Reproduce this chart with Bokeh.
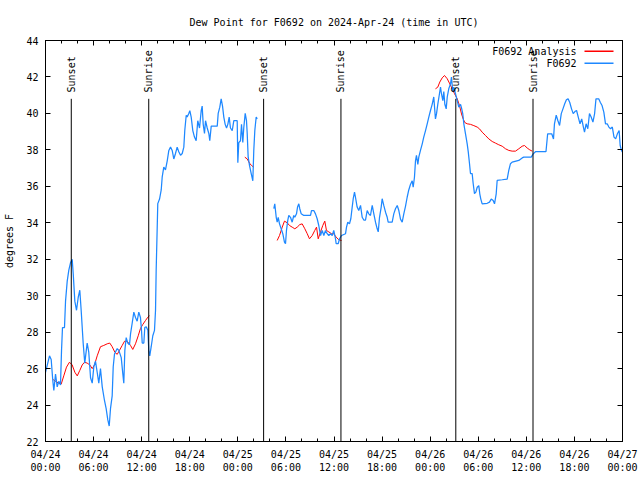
import math
import numpy as np
import pandas as pd
from bokeh.plotting import figure
from bokeh.models import (Range1d, FixedTicker, DatetimeTickFormatter, LinearAxis,
                          DatetimeAxis, Label, BoxAnnotation, ColumnDataSource)
from bokeh.core.properties import value
from bokeh.embed import file_html
from bokeh.resources import INLINE

TITLE = "Dew Point for F0692 on 2024-Apr-24 (time in UTC)"
START = "2024-04-24 00:00"

# Observed dew point (F0692): hours after START, degrees F (None = data gap)
obs_hours = [
    0.0, 0.50, 0.71, 0.91, 1.04, 1.25, 1.46, 1.66, 1.87, 2.0, 2.12, 2.37, 2.5, 2.71, 2.91,
    3.12, 3.33, 3.46, 3.66, 3.87, 4.08, 4.28, 4.45, 4.70, 4.90, 5.20, 5.40, 5.62, 5.83,
    6.03, 6.24, 6.45, 6.65, 6.86, 7.08, 7.36, 7.57, 7.77, 7.95, 8.11, 8.32, 8.45, 8.61,
    8.95, 9.15, 9.45, 9.65, 9.77, 9.90, 10.07, 10.27, 10.48, 10.61, 10.82, 11.02, 11.23,
    11.44, 11.64, 11.85, 11.98, 12.07, 12.27, 12.39, 12.57, 12.77, 12.89, 13.01, 13.19,
    13.39, 13.60, 13.73, 13.81, 13.94, 14.01, 14.23, 14.44, 14.56, 14.76, 14.97, 15.19,
    15.39, 15.60, 15.81, 16.01, 16.22, 16.43, 16.63, 16.85, 17.06, 17.26, 17.38, 17.56,
    17.68, 17.88, 18.01, 18.18, 18.38, 18.59, 18.80, 19.00, 19.22, 19.43, 19.55, 19.68,
    19.84, 19.97, 20.18, 20.38, 20.50, 20.68, 21.21, 21.43, 21.55, 21.75, 21.92, 22.09,
    22.25, 22.42, 22.59, 22.75, 22.92, 23.08, 23.30, 23.50, 23.92, 24.00, 24.12, 24.33,
    24.46, 24.62, 24.74, 24.92, 25.08, 25.17, 25.29, 25.46, 25.67, 25.87, 25.99, 26.12,
    26.29, 26.42,
    None,
    28.49, 28.61, 28.79, 28.91, 29.04, 29.20, 29.41, 29.61, 29.82, 29.95, 30.07, 30.23,
    30.36, 30.57, 30.78, 30.98, 31.11, 31.32, 31.45, 31.61, 31.73, 31.91, 32.23, 33.07,
    33.19, 33.48, 33.69, 33.90, 34.10, 34.32, 34.53, 34.73, 34.94, 35.15, 35.35, 35.56,
    35.78, 35.97, 36.19, 36.27, 36.52, 36.69, 36.94, 37.44, 37.56, 37.72, 37.93, 38.10,
    38.27, 38.40, 38.56, 38.68, 38.89, 39.09, 39.31, 39.52, 39.72, 39.93, 40.14, 40.34,
    40.55, 40.77, 40.97, 41.18, 41.39, 41.52, 41.68, 41.89, 42.01, 42.21, 42.43, 42.64,
    42.76, 43.26, 43.46, 43.67, 43.89, 44.09, 44.30, 44.51, 44.71, 44.92, 45.13, 45.33,
    45.54, 45.76, 45.88, 46.04, 46.17, 46.29, 46.46, 46.58, 46.79, 47.01, 47.20, 47.42,
    47.63, 47.83, 48.04, 48.25, 48.45, 48.66, 48.79, 48.95, 49.16, 49.29, 49.41, 49.58,
    49.70, 49.83, 50.00, 50.13, 50.32, 50.54, 50.66, 50.82, 50.95, 51.16, 51.38, 51.57,
    51.79, 51.91, 52.07, 52.20, 52.41, 52.62, 52.75, 52.91, 53.03, 53.24, 53.37, 53.53,
    53.70, 53.87, 54.07, 54.19, 54.32, 54.49, 55.12, 55.40, 55.62, 55.86, 56.03, 56.24,
    56.36, 56.99, 57.61, 57.81, 58.02, 58.23, 59.06, 59.48, 59.68, 60.61, 60.86, 61.14,
    62.45, 62.66, 63.17, 63.39, 63.51, 63.73, 63.94, 64.15, 64.36, 64.57, 64.79, 65.00,
    65.21, 65.42, 65.64, 65.85, 66.06, 66.27, 66.48, 66.70, 66.91, 67.12, 67.26, 67.46,
    67.67, 67.88, 68.09, 68.31, 68.52, 68.69, 69.03, 69.24, 69.45, 69.67, 69.88, 70.09,
    70.30, 70.51, 70.73, 70.94, 71.15, 71.36, 71.58, 71.71, 71.87, 72.0,
]
obs_dewpt = [
    25.8, 26.7, 26.5, 25.35, 24.8, 25.7, 25.0, 25.3, 25.1, 27.0, 28.25, 28.25, 29.7, 30.8, 31.4,
    31.8, 32.0, 31.2, 29.7, 29.2, 29.9, 30.3, 29.2, 27.4, 26.3, 27.4, 26.9, 25.5, 25.2,
    26.1, 26.4, 25.8, 25.2, 26.0, 25.0, 24.25, 23.8, 23.2, 22.85, 23.8, 24.5, 26.1, 26.8,
    27.1, 27.0, 26.6, 25.7, 25.2, 27.0, 27.7, 27.4, 27.3, 27.9, 28.5, 29.1, 28.8,
    28.6, 29.1, 28.8, 28.1, 27.4, 27.4, 28.25, 28.3, 28.1, 27.0, 26.7, 27.2,
    27.8, 28.1, 29.2, 31.4, 33.76, 35.05, 35.3, 35.8, 36.5, 37.05, 36.9, 37.4,
    37.97, 38.15, 37.97, 37.5, 37.8, 38.15, 37.9, 37.7, 37.8, 38.15, 39.06, 39.9,
    39.8, 40.0, 40.15, 39.8, 39.06, 38.7, 38.5, 39.6, 39.2, 40.15, 40.4, 39.4,
    38.9, 39.6, 39.2, 38.9, 38.5, 39.3, 39.3, 39.3, 40.0, 40.34, 40.8, 40.4,
    39.8, 39.4, 39.2, 39.4, 39.8, 39.2, 39.06, 39.6, 39.6, 37.3, 38.4, 38.5,
    39.4, 38.4, 39.2, 40.0, 39.6, 38.9, 37.6, 37.14, 36.7, 36.3, 37.97, 39.06,
    39.8, 39.7,
    None,
    34.77, 35.04, 34.3, 34.03, 34.3, 33.94, 33.67, 33.4, 32.94, 32.85, 33.58, 34.13,
    34.4, 34.3, 34.03, 34.4, 34.3, 34.49, 34.86, 35.04, 34.77, 34.49, 34.4, 34.4,
    34.67, 34.67, 34.49, 34.22, 33.85, 33.3, 33.58, 33.3, 33.58, 33.4, 33.3, 33.4,
    33.3, 33.58, 33.12, 32.85, 32.85, 33.12, 33.3, 33.4, 33.76, 34.03, 33.94, 34.22,
    34.86, 35.32, 35.68, 35.4, 34.86, 34.67, 34.95, 34.3, 34.15, 34.15, 34.67, 34.49,
    34.4, 34.95, 34.49, 34.03, 33.67, 33.5, 34.3, 34.86, 35.32, 34.95, 34.58, 34.3,
    34.03, 34.03, 34.49, 34.77, 34.95, 34.67, 34.2, 34.03, 34.49, 34.9, 35.4, 35.8,
    36.1, 36.3, 35.95, 36.5, 37.4, 37.7, 37.2, 37.6, 37.97, 38.33, 38.7, 39.06,
    39.43, 39.8, 40.16, 40.5, 40.9, 39.7, 39.97, 40.5, 41.08, 41.44, 41.08, 40.7,
    41.2, 40.5, 40.25, 40.9, 41.35, 41.62, 41.99, 41.2, 41.44, 41.08, 40.7, 40.34,
    40.5, 40.3, 39.97, 39.43, 38.88, 38.33, 37.9, 37.24, 36.7, 36.7, 36.14, 35.6,
    35.68, 35.95, 36.04, 35.59, 35.3, 35.04, 35.07, 35.13, 35.3, 35.22, 35.04, 35.59,
    36.32, 36.36, 36.4, 36.87, 37.24, 37.33, 37.42, 37.56, 37.6, 37.6, 37.78, 37.9,
    37.9, 38.88, 38.88, 38.6, 39.43, 39.9, 39.6, 39.34, 39.99, 40.25, 40.53, 40.75,
    40.8, 40.6, 40.25, 39.99, 40.1, 40.16, 39.8, 39.43, 39.7, 39.25, 38.97, 39.43,
    39.16, 39.99, 39.8, 39.52, 39.99, 40.8, 40.8, 40.6, 40.43, 40.07, 39.43, 39.43,
    39.25, 39.16, 39.25, 38.7, 38.6, 38.88, 39.06, 38.24, 37.97, 37.88,
]

# Analysis dew point (F0692 Analysis): hours after START, degrees F (None = gap)
ana_hours = [
    0.96, 1.25, 1.66, 1.96, 2.28, 2.62, 2.99, 3.33, 3.66, 3.96, 4.28, 4.58, 4.87, 5.20,
    5.53, 5.83, 6.11, 6.45, 6.86, 7.27, 7.70, 8.02, 8.32, 8.65, 8.95, 9.23, 9.57, 9.86,
    10.19, 10.61, 10.89, 11.23, 11.57, 11.85, 12.14, 12.48, 12.77, 12.98,
    None,
    24.87, 25.17, 25.46, 25.71, 25.99,
    None,
    28.91, 29.20, 29.54, 29.82, 30.16, 30.45, 30.78, 31.11, 31.41, 31.73, 32.03, 32.36,
    32.66, 32.94, 33.28, 33.60, 33.82, 34.03, 34.32, 34.60, 34.85, 35.06, 35.35, 35.69,
    35.97, 36.27, 36.60, 36.94,
    None,
    48.66, 48.95, 49.20, 49.50, 49.79, 50.13, 50.45, 50.75, 51.04, 51.38, 51.66, 51.91,
    52.12, 52.32, 52.62, 53.03, 53.45, 53.87, 54.16, 54.49, 54.90, 55.32, 55.74, 56.15,
    56.56, 56.99, 57.40, 57.81, 58.23, 58.65, 59.06, 59.48, 59.77, 60.11, 60.43, 60.73,
]
ana_dewpt = [
    25.4, 25.3, 25.2, 25.15, 25.6, 26.08, 26.35, 26.2, 25.8, 25.6, 25.9, 26.2, 26.35, 26.3,
    26.2, 26.0, 26.2, 26.7, 27.2, 27.27, 27.36, 27.4, 27.2, 26.9, 26.78, 27.0, 27.27, 27.5,
    27.5, 27.27, 27.05, 27.36, 27.8, 28.2, 28.42, 28.64, 28.82, 28.9,
    None,
    37.6, 37.5, 37.27, 37.14, 37.05,
    None,
    33.03, 33.3, 33.76, 34.09, 34.0, 33.85, 33.76, 33.67, 33.76, 33.9, 33.94, 33.67,
    33.4, 33.12, 33.3, 33.58, 33.76, 33.12, 33.5, 33.85, 34.09, 33.58, 33.5, 33.4,
    33.4, 33.21, 33.07, 33.03,
    None,
    41.35, 41.44, 41.72, 41.95, 42.08, 41.9, 41.62, 41.35, 41.08, 40.8, 40.43, 39.97,
    39.7, 39.5, 39.43, 39.4, 39.33, 39.25, 39.15, 38.97, 38.79, 38.6, 38.46, 38.37,
    38.28, 38.2, 38.06, 37.97, 37.93, 37.93, 38.06, 38.2, 38.24, 38.1, 38.0, 37.93,
]

sun_events = ["Sunset", "Sunrise", "Sunset", "Sunrise", "Sunset", "Sunrise"]
sun_times = ["2024-04-24 03:13", "2024-04-24 12:53", "2024-04-25 03:13",
             "2024-04-25 12:52", "2024-04-26 03:12", "2024-04-26 12:50"]

y_ticks = [22, 24, 26, 28, 30, 32, 34, 36, 38, 40, 42, 44]
x_major_hours = [0, 6, 12, 18, 24, 30, 36, 42, 48, 54, 60, 66, 72]
x_minor_hours = list(range(0, 73, 2))

# ---------------------------------------------------------------------------
MS_H = 3600000.0
t0 = pd.Timestamp(START).value / 1e6  # ms


def to_ms(hours):
    return np.array([np.nan if h is None else t0 + h * MS_H for h in hours], dtype=float)


def to_val(vals):
    return np.array([np.nan if v is None else v for v in vals], dtype=float)


obs_x, obs_y = to_ms(obs_hours), to_val(obs_dewpt)
ana_x, ana_y = to_ms(ana_hours), to_val(ana_dewpt)
sun_x = [pd.Timestamp(s).value / 1e6 for s in sun_times]

FONT = "DejaVu Sans Mono"
FS = "10px"
BLUE = "#1e88ff"
RED = "#ff0000"

p = figure(width=640, height=480, output_backend="svg", toolbar_location=None,
           x_axis_type="datetime",
           x_range=Range1d(t0 + x_major_hours[0] * MS_H, t0 + x_major_hours[-1] * MS_H),
           y_range=Range1d(y_ticks[0], y_ticks[-1]),
           min_border_left=45, min_border_right=18, min_border_top=40, min_border_bottom=39)
p.background_fill_color = "white"
p.border_fill_color = "white"
p.outline_line_color = "black"
p.grid.visible = False

p.title.text = TITLE
p.title.text_font = FONT
p.title.text_font_size = FS
p.title.text_font_style = "normal"
p.title.text_color = "black"
p.title.align = "center"
p.title.standoff = 26

xt = FixedTicker(ticks=[t0 + h * MS_H for h in x_major_hours],
                 minor_ticks=[t0 + h * MS_H for h in x_minor_hours])
fmt_str = "%m/%d\n%H:%M"
xf = DatetimeTickFormatter(microseconds=fmt_str, milliseconds=fmt_str, seconds=fmt_str,
                           minsec=fmt_str, minutes=fmt_str, hourmin=fmt_str, hours=fmt_str,
                           days=fmt_str, months=fmt_str, years=fmt_str)
yt = FixedTicker(ticks=y_ticks, minor_ticks=[])


def style_axis(ax, show_labels=True):
    ax.axis_line_color = "black"
    ax.major_tick_line_color = "black"
    ax.minor_tick_line_color = "black"
    ax.major_tick_in = 5
    ax.major_tick_out = 0
    ax.minor_tick_in = 3
    ax.minor_tick_out = 0
    ax.major_label_text_font = FONT
    ax.major_label_text_color = "black"
    if show_labels:
        ax.major_label_text_font_size = FS
    else:
        ax.major_label_text_font_size = "0px"
        ax.major_label_text_alpha = 0
        ax.major_label_standoff = 0


xa = p.xaxis[0]
xa.ticker = xt
xa.formatter = xf
style_axis(xa)
xa.major_label_standoff = 7
xa.major_label_text_line_height = 1.25

ya = p.yaxis[0]
ya.ticker = yt
style_axis(ya)
ya.major_label_standoff = 7
ya.axis_label = "degrees F"
ya.axis_label_text_font = FONT
ya.axis_label_text_font_size = FS
ya.axis_label_text_font_style = "normal"
ya.axis_label_text_color = "black"
ya.axis_label_standoff = 8

top = DatetimeAxis(ticker=xt, formatter=xf)
style_axis(top, show_labels=False)
p.add_layout(top, "above")
right = LinearAxis(ticker=yt)
style_axis(right, show_labels=False)
p.add_layout(right, "right")

# data
p.line(ana_x, ana_y, line_color=RED, line_width=1)
p.line(obs_x, obs_y, line_color=BLUE, line_width=1.25)

# sunrise / sunset markers
sun_src = ColumnDataSource(dict(x=sun_x, label=sun_events))
p.segment(x0="x", y0=y_ticks[0], x1="x", y1=40.8, source=sun_src,
          line_color="black", line_width=1)
p.text(x="x", y=41.15, text="label", source=sun_src, angle=math.pi / 2,
       text_align="left", text_baseline="middle", text_font=value(FONT),
       text_font_size=FS, text_color="black")

# legend (gnuplot style: text then sample line)
legend_items = [("F0692 Analysis", RED), ("F0692", BLUE)]
for i, (name, col) in enumerate(legend_items):
    yy = 390 - 12 * i
    p.add_layout(Label(x=531, y=yy, x_units="screen", y_units="screen", text=name,
                       text_align="right", text_baseline="middle", text_font=FONT,
                       text_font_size=FS, text_color="black"))
    p.add_layout(BoxAnnotation(left=539, right=568, bottom=yy - 0.5, top=yy + 1,
                               left_units="screen", right_units="screen",
                               bottom_units="screen", top_units="screen",
                               fill_color=col, fill_alpha=1.0, line_alpha=0))

open("out.html", "w").write(file_html(p, INLINE))
